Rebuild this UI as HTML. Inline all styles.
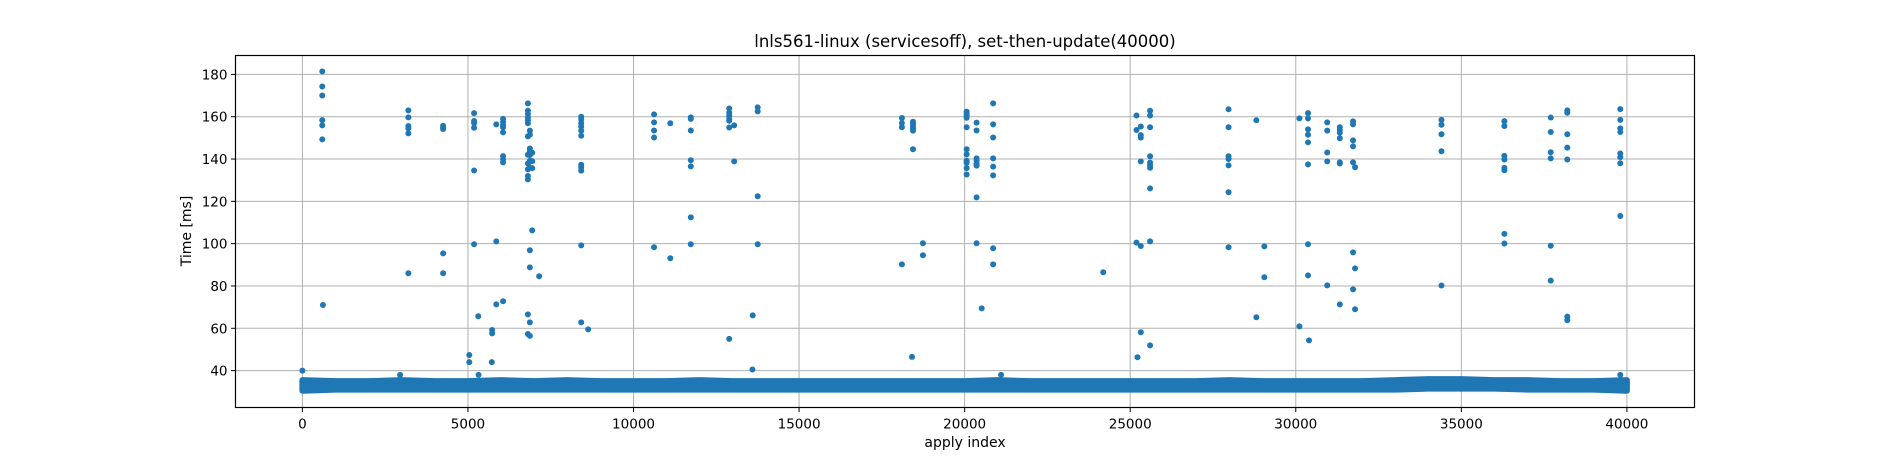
<!DOCTYPE html>
<html><head><meta charset="utf-8"><style>
html,body{margin:0;padding:0;background:#fff;}
svg{display:block;font-family:"DejaVu Sans","Liberation Sans",sans-serif;}
</style></head><body>
<svg id="chart" width="1882" height="457" viewBox="0 0 1882 457">
<rect x="0" y="0" width="1882" height="457" fill="#fff"/>
<text x="965" y="47" text-anchor="middle" font-size="16.5" fill="#000">lnls561-linux (servicesoff), set-then-update(40000)</text>
<g id="grid"></g>
<g id="band"></g>
<g id="points"></g>
<rect x="235.5" y="55.5" width="1459" height="352" fill="none" stroke="#000" stroke-width="1.2"/>
<g id="xticks"></g>
<g id="yticks"></g>
<text x="965" y="447" text-anchor="middle" font-size="14">apply index</text>
<text transform="translate(191,231) rotate(-90)" text-anchor="middle" font-size="14">Time [ms]</text>
</svg>
<script>
const xTicks = [0,5000,10000,15000,20000,25000,30000,35000,40000];
const yTicks = [40,60,80,100,120,140,160,180];
// dense band: per 1000-index bucket low/high of the bulk
const bandIdx = [0,1000,2000,3000,4000,5000,6000,7000,8000,9000,10000,11000,12000,13000,14000,15000,16000,17000,18000,19000,20000,21000,22000,23000,24000,25000,26000,27000,28000,29000,30000,31000,32000,33000,34000,35000,36000,37000,38000,39000,40000];
const bandLow = [30.5,31,31,31,31,31,31,31,31,31,31,31,31,31,31,31,31,31,31,31,31,31,31,31,31,31,31,31,31,31,31,31,31,31,31.5,31.5,31.5,31,31,31,30.5];
const bandHigh = [35.5,35,35,35.5,35,35,35.5,35,35.5,35,35,35,35.5,35,35,35,35,35,35,35,35,35.5,35,35,35,35,35,35,35.5,35,35,35,35,35.5,36,36,35.5,35.5,35,35,35.5];
// outliers: [index, ms]
const outIdx = [0,600,600,600,600,600,600,620,3200,3200,3200,3200,3200,3200,2950,4250,4250,4250,4250,4250,
5185,5185,5185,5185,5185,5185,5310,5040,5040,5320,5855,5855,5855,5730,5730,5720,6060,6060,6060,6060,6060,6060,6060,6060,6060,
6810,6810,6810,6810,6810,6810,6810,6810,6810,6810,6810,6810,6810,6810,6870,6870,6870,6870,6870,6870,6870,6870,6870,6870,6870,6940,6940,6940,6940,7150,
8420,8420,8420,8420,8420,8420,8420,8420,8420,8420,8420,8630,
10620,10620,10620,10620,10620,11110,11110,11730,11730,11730,11730,11730,11730,11730,
12890,12890,12890,12890,12890,12890,12890,13040,13040,13600,13750,13750,13750,13750,13590,
18105,18105,18105,18105,18440,18440,18440,18440,18440,18440,18740,18740,18410,
20060,20060,20060,20060,20060,20060,20060,20060,20060,20060,20060,20360,20360,20360,20360,20360,20360,20360,20360,20515,
20860,20860,20860,20860,20860,20860,20860,20860,21100,24185,
25190,25190,25190,25320,25320,25320,25320,25320,25320,25600,25600,25600,25600,25600,25600,25600,25600,25600,25220,25600,
27970,27970,27970,27970,27970,27970,27970,28810,28810,29050,29050,30110,30110,
30370,30370,30370,30370,30370,30370,30370,30370,30400,30950,30950,30950,30950,30950,31330,31330,31330,31330,31330,31330,31330,
31730,31730,31730,31730,31730,31730,31730,31790,31790,31790,
34400,34400,34400,34400,34400,36300,36300,36300,36300,36300,36300,36300,36300,37700,37700,37700,37700,37700,37700,
38200,38200,38200,38200,38200,38200,38200,39800,39800,39800,39800,39800,39800,39800,39800,39800];
const outVal = [40,181.4,174.3,170,158.4,155.9,149.3,71,163,159.7,155.6,154.5,152.1,86,38,155.7,154.8,154.2,95.4,86,
161.7,158,157,154.8,134.6,99.7,65.7,47.4,44,38,156.4,101.1,71.3,59.2,57.6,44,159,157.5,156,155,152.6,141.4,139.8,138.4,72.8,
166.3,162.8,161.3,159.7,158.4,156.9,150.7,142,137.9,135.1,132,130.4,66.6,57.3,153.4,151.5,145,143.8,141.9,139.2,136,96.9,88.8,62.8,56.4,143,139,135.7,106.3,84.6,
160,158.7,156.9,155.3,153.4,151,137.3,136,134.5,99.2,62.8,59.5,
161.1,157.3,153.5,150.2,98.3,156.9,93.1,159.7,159,153.5,139.4,136.5,112.4,99.7,
163.9,161.9,160.6,159,158.1,154.9,55,155.9,138.9,66.1,164.4,162.5,122.4,99.7,40.5,
159.4,157,155,90.2,157.6,156.7,155.6,154.5,153.4,144.6,100.2,94.5,46.5,
162.4,161.6,160.5,159.5,155,144.6,142.2,139.2,138.3,135.7,132.7,157.2,153.5,140.3,139.2,137.9,136.9,121.9,100.2,69.4,
166.3,156.4,150.2,140.3,136.4,132.3,97.8,90.2,38,86.5,
160.6,153.7,100.5,155.4,151.3,150.1,138.9,98.9,58.1,162.8,160.6,155,141.3,138.3,137,135.9,126.1,101.1,46.3,51.9,
163.5,155,141.3,140,137,124.3,98.3,158.3,65.2,98.7,84.1,159.2,60.9,
161.7,159.2,154,151.5,147.9,137.5,99.7,85,54.3,157.3,153.4,143.1,138.9,80.3,155,153.7,152.4,149.8,138.4,137.9,71.3,
157.8,156.4,148.8,146,138.4,95.9,78.4,136.1,88.3,69,
158.5,156.2,151.7,143.7,80.2,157.9,155.6,141.5,139.8,135.8,134.7,104.6,100.1,159.6,152.8,143.2,140.3,99,82.5,
163,161.9,151.7,145.4,139.8,65.5,63.8,163.6,158.5,154.5,152.8,142.6,140.9,138,113.1,38];

const NS='http://www.w3.org/2000/svg';
const X0=235.5,X1=1694.5,Y0=55.5,Y1=407.5;
function xs(i){return 302.4 + i*(1626.9-302.4)/40000;}
function ys(v){return 370.6 - (v-40)*(370.6-74.4)/140;}
function mk(tag,attrs,parent){const e=document.createElementNS(NS,tag);for(const k in attrs)e.setAttribute(k,attrs[k]);parent.appendChild(e);return e;}
const grid=document.getElementById('grid'),xt=document.getElementById('xticks'),yt=document.getElementById('yticks');
xTicks.forEach(t=>{
  const x=xs(t);
  const g=mk('line',{x1:x,x2:x,y1:Y0,y2:Y1,stroke:'#b0b0b0','stroke-width':1},grid);
  
  
  const tk=mk('line',{x1:x,x2:x,y1:Y1,y2:Y1+4.5,stroke:'#000','stroke-width':1},xt);
  
  
  const tx=mk('text',{x:x,y:Y1+21,'text-anchor':'middle','font-size':13.5},xt);
  tx.textContent=String(t);
  
  
});
yTicks.forEach(t=>{
  const y=ys(t);
  const g=mk('line',{x1:X0,x2:X1,y1:y,y2:y,stroke:'#b0b0b0','stroke-width':1},grid);
  
  
  const tk=mk('line',{x1:X0-4.5,x2:X0,y1:y,y2:y,stroke:'#000','stroke-width':1},yt);
  
  
  const tx=mk('text',{x:X0-8,y:y+5,'text-anchor':'end','font-size':13.5},yt);
  tx.textContent=String(t);
  
  
});
const band=document.getElementById('band');
let d='';
bandIdx.forEach((t,k)=>{d+=(k?'L':'M')+xs(t)+','+ys(bandHigh[k]);});
for(let k=bandIdx.length-1;k>=0;k--){d+='L'+xs(bandIdx[k])+','+ys(bandLow[k]);}
d+='Z';
const bp=mk('path',{d:d,fill:'#1f77b4',stroke:'#1f77b4','stroke-width':6,'stroke-linejoin':'round'},band);


const pts=document.getElementById('points');
outIdx.forEach((t,k)=>{
  const c=mk('circle',{cx:xs(t),cy:ys(outVal[k]),r:3,fill:'#1f77b4'},pts);
  
  
});
</script>
</body></html>
